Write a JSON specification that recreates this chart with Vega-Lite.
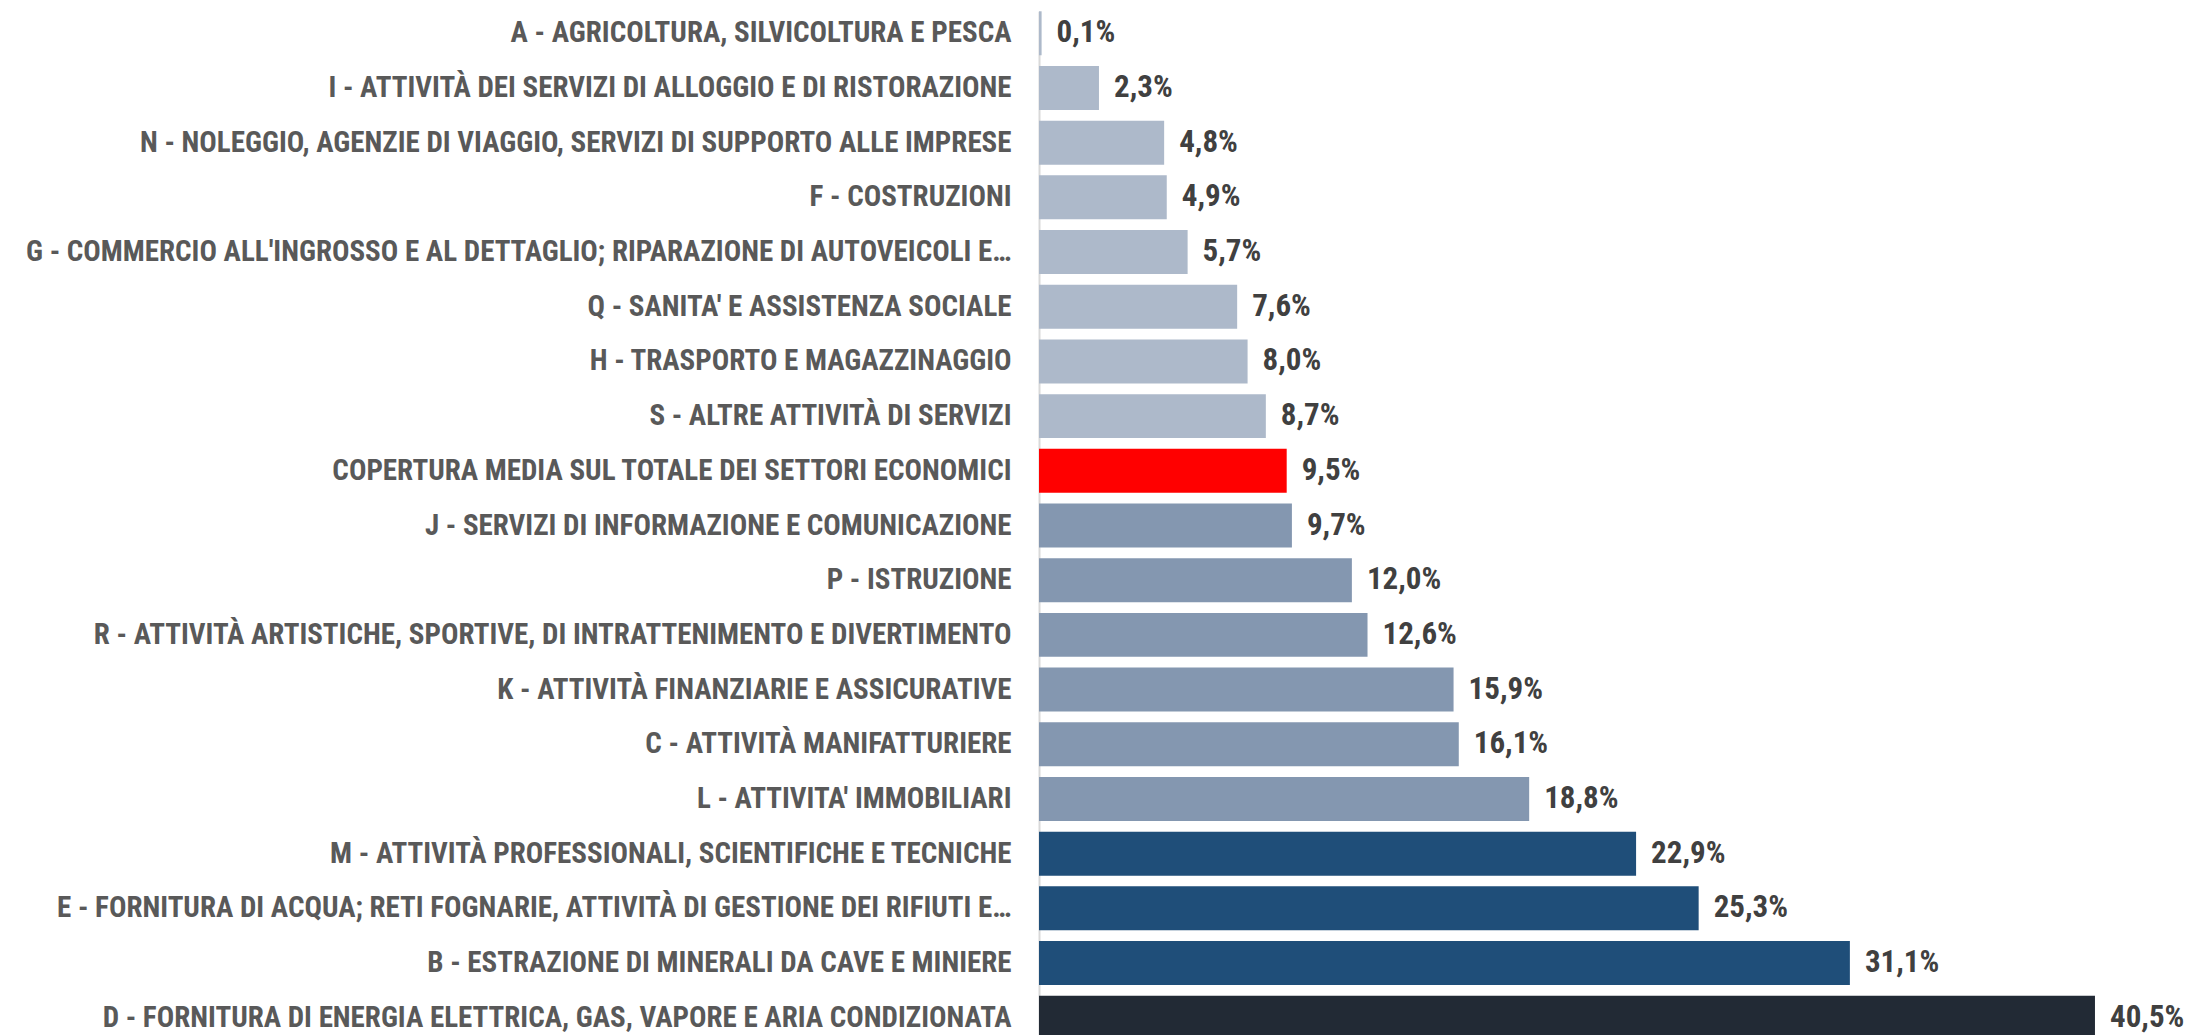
{
  "$schema": "https://vega.github.io/schema/vega-lite/v6.json",
  "width": 1166,
  "height": 1035,
  "autosize": {"type": "none"},
  "padding": {"left": 1039, "top": 0, "right": 0, "bottom": 0},
  "background": "white",
  "config": {
    "view": {"stroke": null},
    "locale": {"number": {"decimal": ",", "thousands": ".", "grouping": [3], "currency": ["€", ""]}}
  },
  "data": {
    "values": [
      {"settore": "A - AGRICOLTURA, SILVICOLTURA E PESCA", "copertura": 0.001, "gruppo": "basso"},
      {"settore": "I - ATTIVITÀ DEI SERVIZI DI ALLOGGIO E DI RISTORAZIONE", "copertura": 0.023, "gruppo": "basso"},
      {"settore": "N - NOLEGGIO, AGENZIE DI VIAGGIO, SERVIZI DI SUPPORTO ALLE IMPRESE", "copertura": 0.048, "gruppo": "basso"},
      {"settore": "F - COSTRUZIONI", "copertura": 0.049, "gruppo": "basso"},
      {"settore": "G - COMMERCIO ALL'INGROSSO E AL DETTAGLIO; RIPARAZIONE DI AUTOVEICOLI E…", "copertura": 0.057, "gruppo": "basso"},
      {"settore": "Q - SANITA' E ASSISTENZA SOCIALE", "copertura": 0.076, "gruppo": "basso"},
      {"settore": "H - TRASPORTO E MAGAZZINAGGIO", "copertura": 0.080, "gruppo": "basso"},
      {"settore": "S - ALTRE ATTIVITÀ DI SERVIZI", "copertura": 0.087, "gruppo": "basso"},
      {"settore": "COPERTURA MEDIA SUL TOTALE DEI SETTORI ECONOMICI", "copertura": 0.095, "gruppo": "media"},
      {"settore": "J - SERVIZI DI INFORMAZIONE E COMUNICAZIONE", "copertura": 0.097, "gruppo": "medio"},
      {"settore": "P - ISTRUZIONE", "copertura": 0.120, "gruppo": "medio"},
      {"settore": "R - ATTIVITÀ ARTISTICHE, SPORTIVE, DI INTRATTENIMENTO E DIVERTIMENTO", "copertura": 0.126, "gruppo": "medio"},
      {"settore": "K - ATTIVITÀ FINANZIARIE E ASSICURATIVE", "copertura": 0.159, "gruppo": "medio"},
      {"settore": "C - ATTIVITÀ MANIFATTURIERE", "copertura": 0.161, "gruppo": "medio"},
      {"settore": "L - ATTIVITA' IMMOBILIARI", "copertura": 0.188, "gruppo": "medio"},
      {"settore": "M - ATTIVITÀ PROFESSIONALI, SCIENTIFICHE E TECNICHE", "copertura": 0.229, "gruppo": "alto"},
      {"settore": "E - FORNITURA DI ACQUA; RETI FOGNARIE, ATTIVITÀ DI GESTIONE DEI RIFIUTI E…", "copertura": 0.253, "gruppo": "alto"},
      {"settore": "B - ESTRAZIONE DI MINERALI DA CAVE E MINIERE", "copertura": 0.311, "gruppo": "alto"},
      {"settore": "D - FORNITURA DI ENERGIA ELETTRICA, GAS, VAPORE E ARIA CONDIZIONATA", "copertura": 0.405, "gruppo": "massimo"}
    ]
  },
  "encoding": {
    "y": {
      "field": "settore",
      "type": "nominal",
      "sort": null,
      "scale": {"paddingInner": 0.196, "paddingOuter": 0, "range": [11.3, 1039.7]},
      "axis": {
        "title": null,
        "ticks": false,
        "labelPadding": 28,
        "labelFont": "Liberation Sans Narrow, Roboto Condensed, Roboto",
        "labelFontSize": 29,
        "labelFontWeight": "bold",
        "labelColor": "#595959",
        "labelLimit": 1100,
        "domainColor": "#D9D9D9",
        "domainWidth": 2
      }
    },
    "x": {
      "field": "copertura",
      "type": "quantitative",
      "scale": {"domain": [0, 0.4472], "nice": false, "zero": true},
      "axis": null
    }
  },
  "layer": [
    {
      "mark": {"type": "bar"},
      "encoding": {
        "color": {
          "field": "gruppo",
          "type": "nominal",
          "scale": {
            "domain": ["basso", "media", "medio", "alto", "massimo"],
            "range": ["#ADB9CA", "#FF0000", "#8497B0", "#1F4E79", "#222A35"]
          },
          "legend": null
        }
      }
    },
    {
      "mark": {
        "type": "text",
        "align": "left",
        "baseline": "middle",
        "dx": 15,
        "font": "Liberation Sans Narrow, Roboto Condensed, Roboto",
        "fontSize": 31,
        "fontWeight": "bold",
        "color": "#404040"
      },
      "encoding": {
        "text": {"field": "copertura", "type": "quantitative", "format": ".1%"}
      }
    }
  ]
}
